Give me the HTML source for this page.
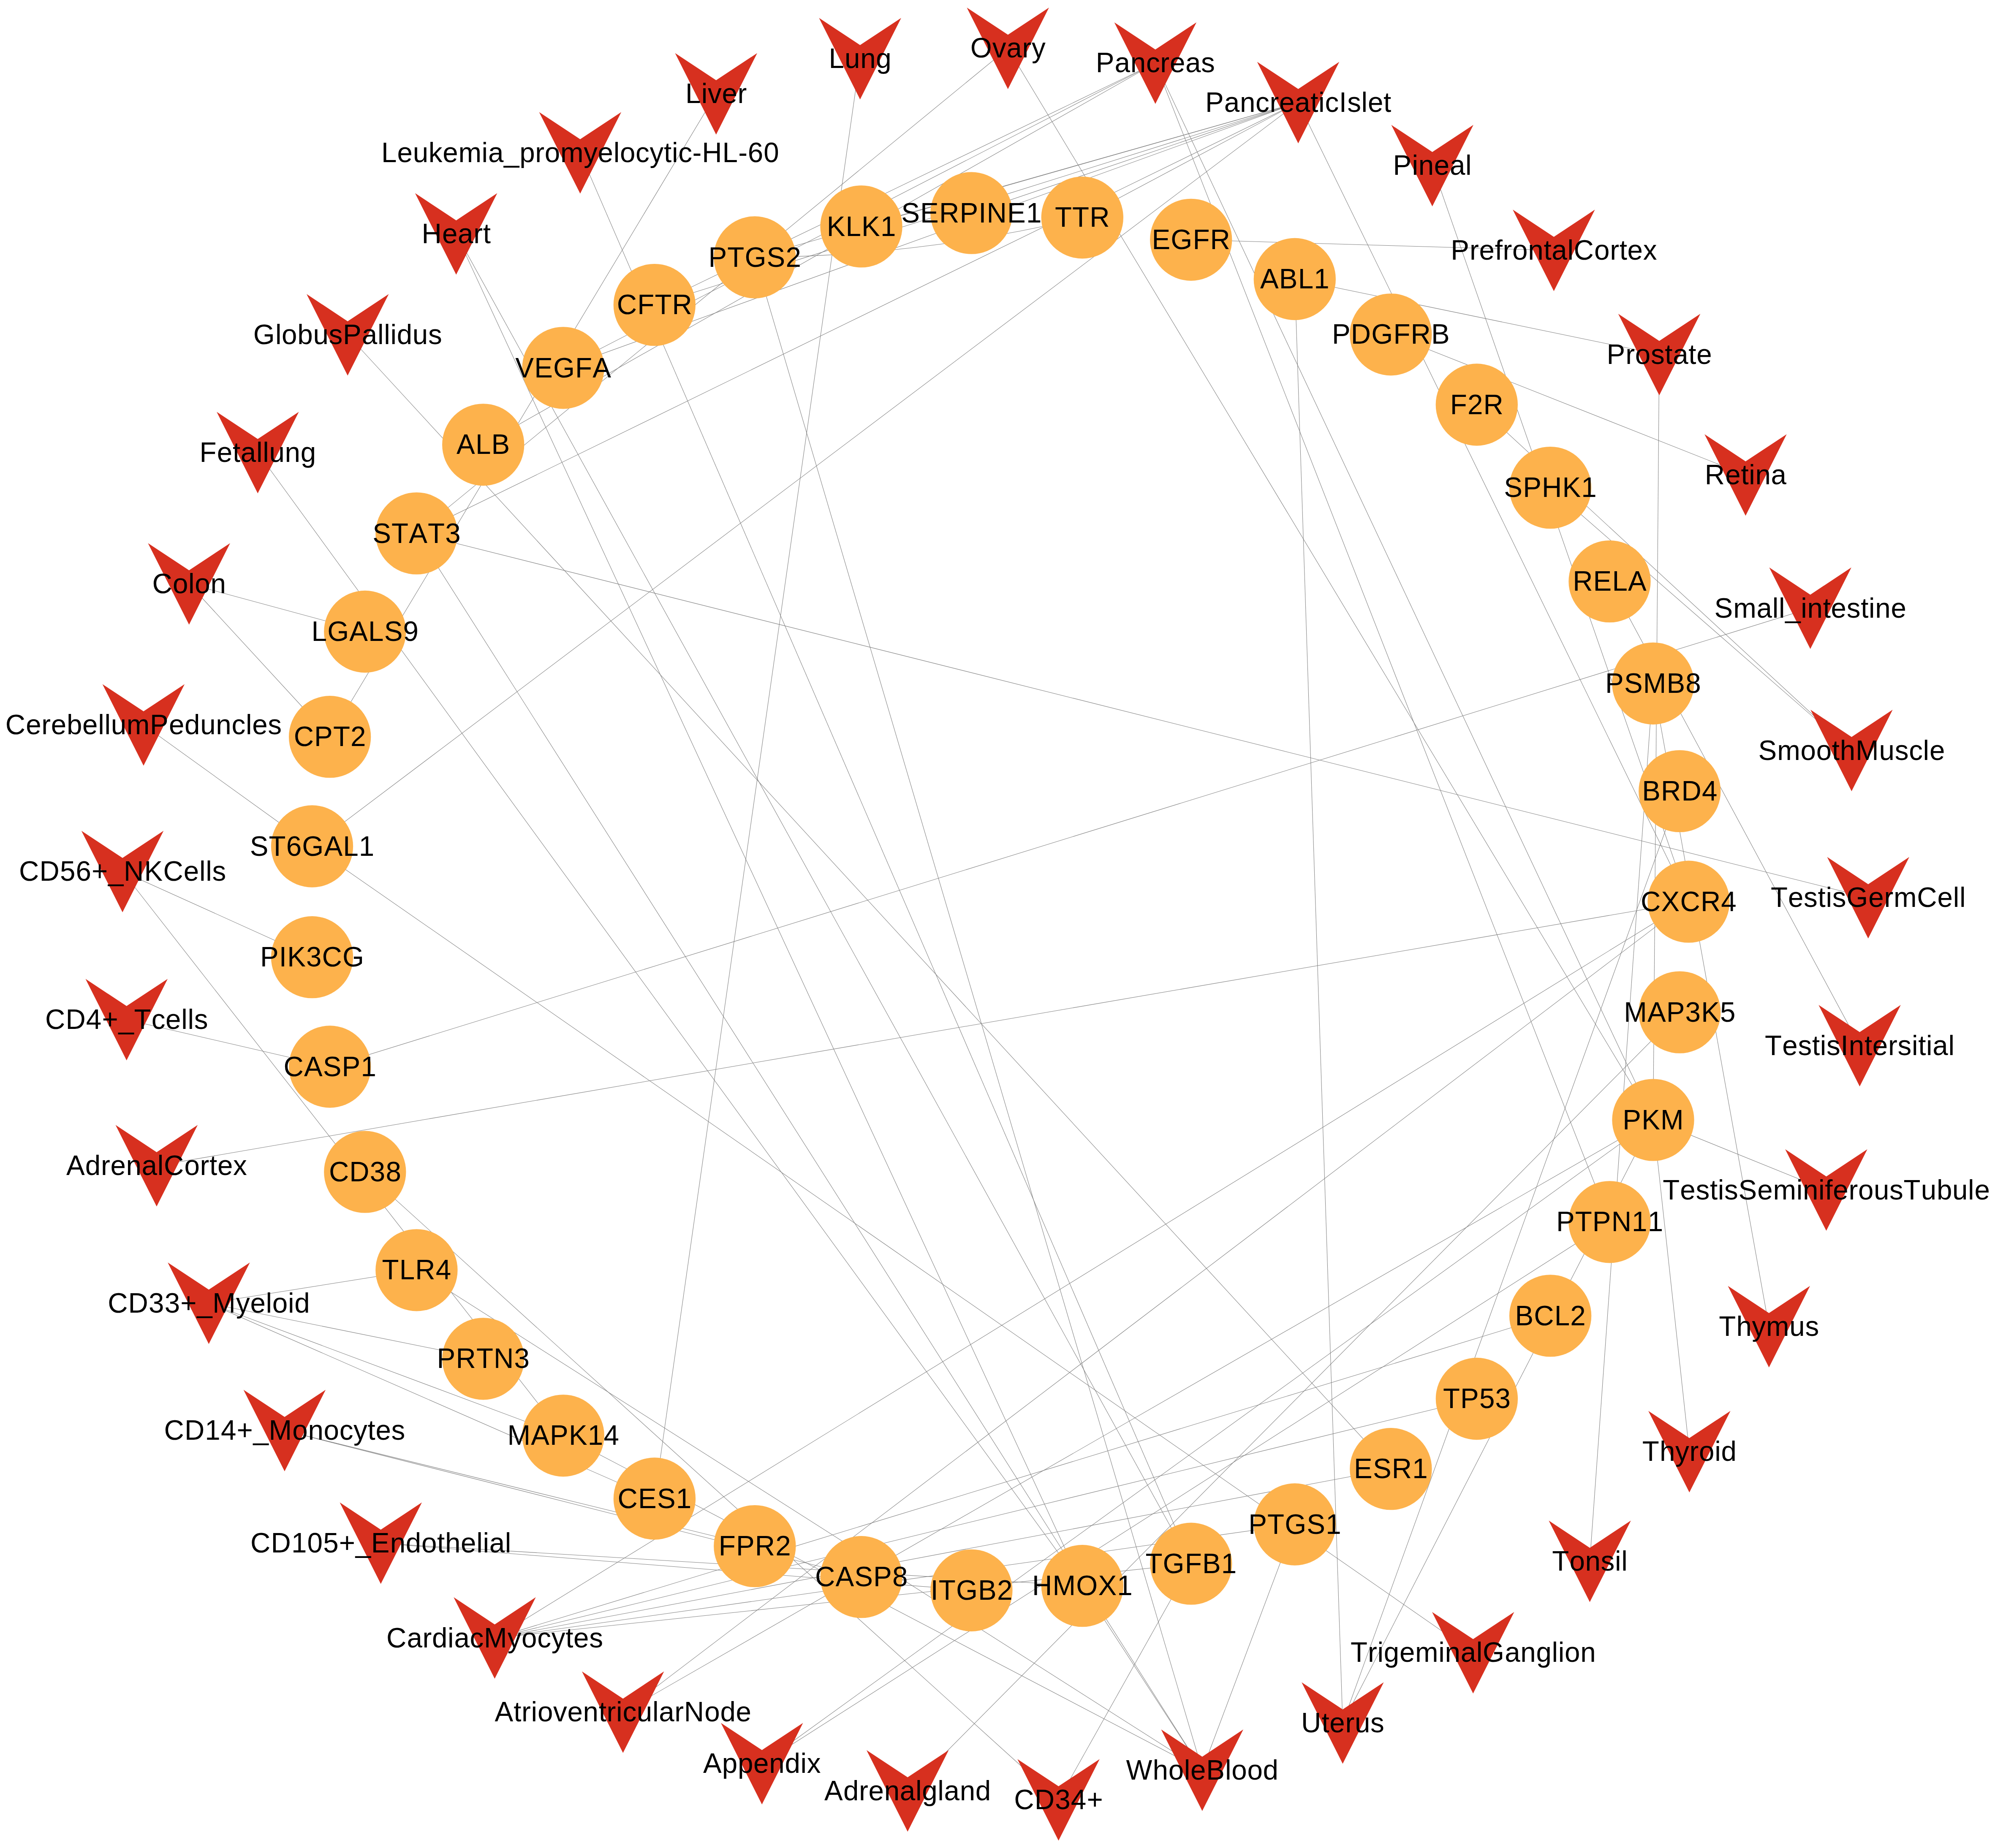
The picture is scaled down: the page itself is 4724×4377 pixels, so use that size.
<!DOCTYPE html><html><head><meta charset="utf-8"><title>network</title><style>html,body{margin:0;padding:0;background:#fff}svg{display:block}text{font-family:"Liberation Sans",sans-serif;font-size:65.50px;fill:#000}</style></head><body>
<svg width="4724" height="4377" viewBox="0 0 4724 4377">
<rect width="4724" height="4377" fill="#fff"/>
<g stroke="#808080" stroke-width="1.05" fill="none">
<line x1="1695.7" y1="222.2" x2="781.1" y2="1745.2"/>
<line x1="2036.6" y1="138.9" x2="1549.9" y2="3549.5"/>
<line x1="1373.8" y1="361.9" x2="2820.3" y2="3703.7"/>
<line x1="1080.2" y1="554.1" x2="2562.9" y2="3756.2"/>
<line x1="1080.2" y1="554.1" x2="2820.3" y2="3703.7"/>
<line x1="2386.7" y1="114.4" x2="986.4" y2="1263.4"/>
<line x1="2386.7" y1="114.4" x2="3914.5" y2="2652.6"/>
<line x1="2735.8" y1="149.4" x2="3811.5" y2="2894.3"/>
<line x1="2735.8" y1="149.4" x2="3914.5" y2="2652.6"/>
<line x1="2735.8" y1="149.4" x2="1144.2" y2="1053.3"/>
<line x1="2735.8" y1="149.4" x2="1549.8" y2="722.1"/>
<line x1="2735.8" y1="149.4" x2="1333.6" y2="871.3"/>
<line x1="3074.1" y1="242.9" x2="2039.5" y2="536.4"/>
<line x1="3074.1" y1="242.9" x2="1787.2" y2="609.5"/>
<line x1="3074.1" y1="242.9" x2="1549.8" y2="722.1"/>
<line x1="3074.1" y1="242.9" x2="2300.3" y2="504.7"/>
<line x1="3074.1" y1="242.9" x2="986.4" y2="1263.4"/>
<line x1="3074.1" y1="242.9" x2="2562.8" y2="515.3"/>
<line x1="3074.1" y1="242.9" x2="739.0" y2="2004.5"/>
<line x1="3074.1" y1="242.9" x2="3998.5" y2="2135.7"/>
<line x1="3074.1" y1="242.9" x2="1333.6" y2="871.3"/>
<line x1="3391.6" y1="392.3" x2="3998.5" y2="2135.7"/>
<line x1="3679.4" y1="593.1" x2="2820.2" y2="567.8"/>
<line x1="3929.0" y1="839.7" x2="3065.8" y2="661.0"/>
<line x1="3929.0" y1="839.7" x2="3914.5" y2="2652.6"/>
<line x1="4133.4" y1="1124.9" x2="3293.3" y2="792.3"/>
<line x1="4384.4" y1="1777.6" x2="3496.8" y2="958.5"/>
<line x1="4384.4" y1="1777.6" x2="3671.0" y2="1155.1"/>
<line x1="4286.7" y1="1440.6" x2="781.1" y2="2526.5"/>
<line x1="4403.6" y1="2476.7" x2="3811.5" y2="1377.1"/>
<line x1="4188.8" y1="3142.2" x2="3914.4" y2="1618.8"/>
<line x1="3179.4" y1="4080.9" x2="3065.8" y2="661.0"/>
<line x1="823.2" y1="793.0" x2="3293.4" y2="3479.2"/>
<line x1="2846.8" y1="4192.8" x2="986.4" y2="1263.4"/>
<line x1="610.3" y1="1072.0" x2="2562.9" y2="3756.2"/>
<line x1="339.9" y1="1716.9" x2="739.0" y2="2004.5"/>
<line x1="3488.2" y1="3914.4" x2="739.0" y2="2004.5"/>
<line x1="2846.8" y1="4192.8" x2="1787.2" y2="609.5"/>
<line x1="4423.7" y1="2126.3" x2="986.4" y2="1263.4"/>
<line x1="370.9" y1="2761.1" x2="3998.5" y2="2135.7"/>
<line x1="447.7" y1="1382.9" x2="864.3" y2="1496.0"/>
<line x1="447.7" y1="1382.9" x2="781.1" y2="1745.2"/>
<line x1="1171.4" y1="3879.6" x2="3998.5" y2="2135.7"/>
<line x1="1171.4" y1="3879.6" x2="3671.1" y2="3116.4"/>
<line x1="1171.4" y1="3879.6" x2="3496.9" y2="3313.0"/>
<line x1="1171.4" y1="3879.6" x2="3293.4" y2="3479.2"/>
<line x1="1171.4" y1="3879.6" x2="3065.9" y2="3610.5"/>
<line x1="1171.4" y1="3879.6" x2="2820.3" y2="3703.7"/>
<line x1="901.7" y1="3655.1" x2="2562.9" y2="3756.2"/>
<line x1="901.7" y1="3655.1" x2="2300.4" y2="3766.8"/>
<line x1="1475.2" y1="4055.3" x2="3914.5" y2="2652.6"/>
<line x1="1475.2" y1="4055.3" x2="3998.5" y2="2135.7"/>
<line x1="2506.5" y1="4263.0" x2="864.3" y2="2775.7"/>
<line x1="2846.8" y1="4192.8" x2="1333.7" y2="3400.3"/>
<line x1="2846.8" y1="4192.8" x2="986.4" y2="3008.3"/>
<line x1="1804.2" y1="4177.2" x2="3914.5" y2="2652.6"/>
<line x1="1804.2" y1="4177.2" x2="3811.5" y2="2894.3"/>
<line x1="2846.8" y1="4192.8" x2="3065.9" y2="3610.5"/>
<line x1="2846.8" y1="4192.8" x2="2562.9" y2="3756.2"/>
<line x1="2506.5" y1="4263.0" x2="2820.3" y2="3703.7"/>
<line x1="2149.2" y1="4241.7" x2="3977.3" y2="2397.6"/>
<line x1="3179.4" y1="4080.9" x2="3977.3" y2="1873.9"/>
<line x1="3179.4" y1="4080.9" x2="3914.5" y2="2652.6"/>
<line x1="3764.5" y1="3698.1" x2="3914.4" y2="1618.8"/>
<line x1="4324.5" y1="2818.6" x2="3914.5" y2="2652.6"/>
<line x1="4000.3" y1="3438.2" x2="3914.5" y2="2652.6"/>
<line x1="494.4" y1="3086.7" x2="986.4" y2="3008.3"/>
<line x1="494.4" y1="3086.7" x2="1144.2" y2="3218.3"/>
<line x1="494.4" y1="3086.7" x2="1333.7" y2="3400.3"/>
<line x1="494.4" y1="3086.7" x2="1549.9" y2="3549.5"/>
<line x1="673.9" y1="3388.2" x2="1787.3" y2="3662.1"/>
<line x1="673.9" y1="3388.2" x2="2039.6" y2="3735.2"/>
<line x1="290.1" y1="2064.2" x2="739.0" y2="2267.2"/>
<line x1="290.1" y1="2064.2" x2="1333.7" y2="3400.3"/>
<line x1="299.7" y1="2415.0" x2="781.1" y2="2526.5"/>
<path d="M1787.2 609.5 Q2180.4 607.1 2562.8 515.3"/>
</g>
<g fill="#FDB24C">
<circle cx="2039.5" cy="536.4" r="97.15"/>
<circle cx="2300.3" cy="504.7" r="97.15"/>
<circle cx="2562.8" cy="515.3" r="97.15"/>
<circle cx="2820.2" cy="567.8" r="97.15"/>
<circle cx="3065.8" cy="661.0" r="97.15"/>
<circle cx="3293.3" cy="792.3" r="97.15"/>
<circle cx="3496.8" cy="958.5" r="97.15"/>
<circle cx="3671.0" cy="1155.1" r="97.15"/>
<circle cx="3811.5" cy="1377.1" r="97.15"/>
<circle cx="3914.4" cy="1618.8" r="97.15"/>
<circle cx="3977.3" cy="1873.9" r="97.15"/>
<circle cx="3998.5" cy="2135.7" r="97.15"/>
<circle cx="3977.3" cy="2397.6" r="97.15"/>
<circle cx="3914.5" cy="2652.6" r="97.15"/>
<circle cx="3811.5" cy="2894.3" r="97.15"/>
<circle cx="3671.1" cy="3116.4" r="97.15"/>
<circle cx="3496.9" cy="3313.0" r="97.15"/>
<circle cx="3293.4" cy="3479.2" r="97.15"/>
<circle cx="3065.9" cy="3610.5" r="97.15"/>
<circle cx="2820.3" cy="3703.7" r="97.15"/>
<circle cx="2562.9" cy="3756.2" r="97.15"/>
<circle cx="2300.4" cy="3766.8" r="97.15"/>
<circle cx="2039.6" cy="3735.2" r="97.15"/>
<circle cx="1787.3" cy="3662.1" r="97.15"/>
<circle cx="1549.9" cy="3549.5" r="97.15"/>
<circle cx="1333.7" cy="3400.3" r="97.15"/>
<circle cx="1144.2" cy="3218.3" r="97.15"/>
<circle cx="986.4" cy="3008.3" r="97.15"/>
<circle cx="864.3" cy="2775.7" r="97.15"/>
<circle cx="781.1" cy="2526.5" r="97.15"/>
<circle cx="739.0" cy="2267.2" r="97.15"/>
<circle cx="739.0" cy="2004.5" r="97.15"/>
<circle cx="781.1" cy="1745.2" r="97.15"/>
<circle cx="864.3" cy="1496.0" r="97.15"/>
<circle cx="986.4" cy="1263.4" r="97.15"/>
<circle cx="1144.2" cy="1053.3" r="97.15"/>
<circle cx="1333.6" cy="871.3" r="97.15"/>
<circle cx="1549.8" cy="722.1" r="97.15"/>
<circle cx="1787.2" cy="609.5" r="97.15"/>
</g><g fill="#D7301F">
<polygon points="1598.5,125.7 1695.7,190.1 1793.0,125.7 1695.7,318.7"/>
<polygon points="1939.4,42.4 2036.6,106.7 2133.9,42.4 2036.6,235.4"/>
<polygon points="2289.4,17.9 2386.7,82.2 2483.9,17.9 2386.7,210.9"/>
<polygon points="2638.6,52.9 2735.8,117.2 2833.1,52.9 2735.8,245.9"/>
<polygon points="2976.8,146.4 3074.1,210.8 3171.3,146.4 3074.1,339.4"/>
<polygon points="3294.4,295.8 3391.6,360.1 3488.9,295.8 3391.6,488.8"/>
<polygon points="3582.1,496.6 3679.4,560.9 3776.6,496.6 3679.4,689.6"/>
<polygon points="3831.8,743.2 3929.0,807.5 4026.3,743.2 3929.0,936.2"/>
<polygon points="4036.2,1028.4 4133.4,1092.8 4230.7,1028.4 4133.4,1221.4"/>
<polygon points="4189.4,1344.1 4286.7,1408.4 4383.9,1344.1 4286.7,1537.1"/>
<polygon points="4287.1,1681.1 4384.4,1745.5 4481.6,1681.1 4384.4,1874.1"/>
<polygon points="4326.5,2029.8 4423.7,2094.2 4521.0,2029.8 4423.7,2222.8"/>
<polygon points="4306.3,2380.2 4403.6,2444.5 4500.8,2380.2 4403.6,2573.2"/>
<polygon points="4227.2,2722.1 4324.5,2786.4 4421.7,2722.1 4324.5,2915.1"/>
<polygon points="4091.5,3045.7 4188.8,3110.0 4286.0,3045.7 4188.8,3238.7"/>
<polygon points="3903.1,3341.7 4000.3,3406.0 4097.6,3341.7 4000.3,3534.7"/>
<polygon points="3667.3,3601.6 3764.5,3665.9 3861.8,3601.6 3764.5,3794.6"/>
<polygon points="3391.0,3817.9 3488.2,3882.2 3585.5,3817.9 3488.2,4010.9"/>
<polygon points="3082.1,3984.4 3179.4,4048.8 3276.6,3984.4 3179.4,4177.4"/>
<polygon points="2749.5,4096.3 2846.8,4160.7 2944.0,4096.3 2846.8,4289.3"/>
<polygon points="2409.2,4166.5 2506.5,4230.8 2603.8,4166.5 2506.5,4359.5"/>
<polygon points="2051.9,4145.2 2149.2,4209.5 2246.4,4145.2 2149.2,4338.2"/>
<polygon points="1707.0,4080.7 1804.2,4145.0 1901.5,4080.7 1804.2,4273.7"/>
<polygon points="1377.9,3958.8 1475.2,4023.2 1572.4,3958.8 1475.2,4151.8"/>
<polygon points="1074.2,3783.1 1171.4,3847.4 1268.7,3783.1 1171.4,3976.1"/>
<polygon points="804.5,3558.6 901.7,3622.9 999.0,3558.6 901.7,3751.6"/>
<polygon points="576.6,3291.7 673.9,3356.0 771.1,3291.7 673.9,3484.7"/>
<polygon points="397.2,2990.2 494.4,3054.5 591.7,2990.2 494.4,3183.2"/>
<polygon points="273.6,2664.6 370.9,2728.9 468.1,2664.6 370.9,2857.6"/>
<polygon points="202.5,2318.5 299.7,2382.8 397.0,2318.5 299.7,2511.5"/>
<polygon points="192.8,1967.7 290.1,2032.1 387.3,1967.7 290.1,2160.7"/>
<polygon points="242.6,1620.4 339.9,1684.7 437.1,1620.4 339.9,1813.4"/>
<polygon points="350.4,1286.4 447.7,1350.8 544.9,1286.4 447.7,1479.4"/>
<polygon points="513.1,975.5 610.3,1039.8 707.6,975.5 610.3,1168.5"/>
<polygon points="726.0,696.5 823.2,760.9 920.5,696.5 823.2,889.5"/>
<polygon points="982.9,457.6 1080.2,521.9 1177.4,457.6 1080.2,650.6"/>
<polygon points="1276.6,265.4 1373.8,329.8 1471.1,265.4 1373.8,458.4"/>
</g><g>
<text transform="matrix(1 0 0 1.030 0 -16.75)" x="1957.7 2002.5 2040.1 2084.9" y="558.5">KLK1</text>
<text transform="matrix(1 0 0 1.030 0 -15.80)" x="2134.3 2179.1 2224.0 2272.4 2317.2 2336.6 2385.0 2429.9" y="526.8">SERPINE1</text>
<text transform="matrix(1 0 0 1.030 0 -16.12)" x="2498.0 2539.1 2580.3" y="537.4">TTR</text>
<text transform="matrix(1 0 0 1.030 0 -17.70)" x="2727.5 2772.3 2824.4 2865.6" y="589.9">EGFR</text>
<text transform="matrix(1 0 0 1.030 0 -20.49)" x="2984.0 3028.8 3073.7 3111.2" y="683.1">ABL1</text>
<text transform="matrix(1 0 0 1.030 0 -24.43)" x="3154.0 3198.8 3247.3 3299.4 3340.5 3389.0" y="814.4">PDGFRB</text>
<text transform="matrix(1 0 0 1.030 0 -29.42)" x="3433.8 3475.0 3512.5" y="980.6">F2R</text>
<text transform="matrix(1 0 0 1.030 0 -35.32)" x="3561.3 3606.2 3651.0 3699.5 3744.3" y="1177.2">SPHK1</text>
<text transform="matrix(1 0 0 1.030 0 -41.98)" x="3724.2 3772.6 3817.5 3855.0" y="1399.2">RELA</text>
<text transform="matrix(1 0 0 1.030 0 -49.23)" x="3801.1 3845.9 3890.8 3946.5 3991.3" y="1640.9">PSMB8</text>
<text transform="matrix(1 0 0 1.030 0 -56.88)" x="3888.2 3933.1 3981.5 4030.0" y="1896.0">BRD4</text>
<text transform="matrix(1 0 0 1.030 0 -64.73)" x="3885.1 3933.6 3978.4 4026.9 4075.3" y="2157.8">CXCR4</text>
<text transform="matrix(1 0 0 1.030 0 -72.59)" x="3845.2 3900.9 3945.8 3990.6 4028.2 4073.0" y="2419.7">MAP3K5</text>
<text transform="matrix(1 0 0 1.030 0 -80.24)" x="3842.3 3887.2 3932.0" y="2674.8">PKM</text>
<text transform="matrix(1 0 0 1.030 0 -87.49)" x="3684.9 3729.7 3770.8 3815.7 3864.1 3901.7" y="2916.4">PTPN11</text>
<text transform="matrix(1 0 0 1.030 0 -94.15)" x="3587.4 3632.3 3680.7 3718.3" y="3138.5">BCL2</text>
<text transform="matrix(1 0 0 1.030 0 -100.05)" x="3416.9 3458.1 3502.9 3540.5" y="3335.1">TP53</text>
<text transform="matrix(1 0 0 1.030 0 -105.04)" x="3206.1 3251.0 3295.8 3344.3" y="3501.3">ESR1</text>
<text transform="matrix(1 0 0 1.030 0 -108.98)" x="2956.2 3001.1 3042.2 3094.3 3139.2" y="3632.6">PTGS1</text>
<text transform="matrix(1 0 0 1.030 0 -111.77)" x="2712.4 2753.6 2805.7 2846.9 2891.7" y="3725.8">TGFB1</text>
<text transform="matrix(1 0 0 1.030 0 -113.35)" x="2444.1 2492.6 2548.3 2600.4 2645.2" y="3778.4">HMOX1</text>
<text transform="matrix(1 0 0 1.030 0 -113.67)" x="2203.5 2222.8 2264.0 2316.1 2360.9" y="3788.9">ITGB2</text>
<text transform="matrix(1 0 0 1.030 0 -112.72)" x="1929.9 1978.4 2023.2 2068.0 2112.9" y="3757.3">CASP8</text>
<text transform="matrix(1 0 0 1.030 0 -110.53)" x="1701.8 1743.0 1787.8 1836.3" y="3684.2">FPR2</text>
<text transform="matrix(1 0 0 1.030 0 -107.15)" x="1462.6 1511.1 1555.9 1600.8" y="3571.6">CES1</text>
<text transform="matrix(1 0 0 1.030 0 -102.67)" x="1201.6 1257.3 1302.1 1347.0 1391.8 1429.4" y="3422.4">MAPK14</text>
<text transform="matrix(1 0 0 1.030 0 -97.21)" x="1034.6 1079.4 1127.9 1169.0 1217.5" y="3240.4">PRTN3</text>
<text transform="matrix(1 0 0 1.030 0 -90.91)" x="904.6 945.8 983.3 1031.8" y="3030.4">TLR4</text>
<text transform="matrix(1 0 0 1.030 0 -83.93)" x="778.9 827.3 875.8 913.4" y="2797.8">CD38</text>
<text transform="matrix(1 0 0 1.030 0 -76.46)" x="671.4 719.9 764.7 809.6 854.4" y="2548.6">CASP1</text>
<text transform="matrix(1 0 0 1.030 0 -68.68)" x="616.0 660.8 680.2 725.0 762.6 811.0" y="2289.3">PIK3CG</text>
<text transform="matrix(1 0 0 1.030 0 -60.80)" x="591.7 636.6 677.7 715.3 767.4 812.2 849.8" y="2026.6">ST6GAL1</text>
<text transform="matrix(1 0 0 1.030 0 -53.02)" x="695.7 744.1 789.0 830.1" y="1767.3">CPT2</text>
<text transform="matrix(1 0 0 1.030 0 -45.54)" x="737.6 775.2 827.3 872.1 909.7 954.5" y="1518.1">LGALS9</text>
<text transform="matrix(1 0 0 1.030 0 -38.56)" x="882.2 927.0 968.2 1013.0 1054.2" y="1285.5">STAT3</text>
<text transform="matrix(1 0 0 1.030 0 -32.26)" x="1081.1 1126.0 1163.5" y="1075.4">ALB</text>
<text transform="matrix(1 0 0 1.030 0 -26.80)" x="1220.3 1265.2 1310.0 1362.1 1403.3" y="893.5">VEGFA</text>
<text transform="matrix(1 0 0 1.030 0 -22.33)" x="1460.8 1509.2 1550.4 1591.6" y="744.2">CFTR</text>
<text transform="matrix(1 0 0 1.030 0 -18.95)" x="1677.5 1722.3 1763.5 1815.6 1860.4" y="631.6">PTGS2</text>
<text transform="matrix(1 0 0 1.030 0 -7.33)" x="1623.1 1660.7 1676.0 1709.4 1746.5" y="244.3">Liver</text>
<text transform="matrix(1 0 0 1.030 0 -4.83)" x="1962.5 2000.1 2037.2 2074.3" y="161.0">Lung</text>
<text transform="matrix(1 0 0 1.030 0 -4.10)" x="2297.7 2349.8 2383.2 2420.4 2442.9" y="136.5">Ovary</text>
<text transform="matrix(1 0 0 1.030 0 -5.15)" x="2594.8 2639.6 2676.8 2713.9 2747.3 2769.9 2807.0 2844.1" y="171.5">Pancreas</text>
<text transform="matrix(1 0 0 1.030 0 -7.95)" x="2853.9 2898.7 2935.9 2973.0 3006.5 3029.0 3066.1 3103.2 3122.1 3137.4 3170.8 3190.2 3223.6 3238.9 3276.0" y="265.0">PancreaticIslet</text>
<text transform="matrix(1 0 0 1.030 0 -12.43)" x="3298.6 3343.4 3358.7 3395.8 3432.9 3470.1" y="414.4">Pineal</text>
<text transform="matrix(1 0 0 1.030 0 -18.46)" x="3435.2 3480.0 3502.6 3539.7 3558.6 3581.1 3618.2 3655.4 3674.2 3711.4 3726.6 3775.1 3812.2 3834.7 3853.6 3890.7" y="615.2">PrefrontalCortex</text>
<text transform="matrix(1 0 0 1.030 0 -25.85)" x="3804.4 3849.2 3871.7 3908.9 3942.3 3961.2 3998.3 4017.2" y="861.8">Prostate</text>
<text transform="matrix(1 0 0 1.030 0 -34.41)" x="4036.8 4085.2 4122.4 4141.3 4156.5 4193.6" y="1147.0">Retina</text>
<text transform="matrix(1 0 0 1.030 0 -43.88)" x="4059.5 4104.3 4159.6 4196.7 4211.9 4227.2 4264.3 4279.6 4316.7 4335.6 4372.7 4406.2 4425.1 4440.3 4477.5" y="1462.7">Small_intestine</text>
<text transform="matrix(1 0 0 1.030 0 -53.99)" x="4163.5 4208.3 4263.6 4300.7 4337.8 4356.7 4393.9 4449.6 4486.7 4520.2 4553.6 4568.9" y="1799.7">SmoothMuscle</text>
<text transform="matrix(1 0 0 1.030 0 -64.45)" x="4192.9 4234.0 4271.1 4304.6 4323.5 4338.7 4372.2 4424.3 4461.4 4483.9 4539.2 4587.6 4624.8 4640.0" y="2148.5">TestisGermCell</text>
<text transform="matrix(1 0 0 1.030 0 -74.96)" x="4179.1 4220.3 4257.4 4290.9 4309.8 4325.0 4358.5 4377.8 4414.9 4433.8 4471.0 4493.5 4526.9 4542.2 4561.1 4576.3 4613.4" y="2498.8">TestisIntersitial</text>
<text transform="matrix(1 0 0 1.030 0 -85.22)" x="3937.2 3978.3 4015.4 4048.9 4067.8 4083.0 4116.5 4161.3 4198.5 4253.7 4269.0 4306.1 4321.3 4340.2 4377.4 4399.9 4437.0 4474.1 4507.6 4548.8 4585.9 4623.0 4660.1 4675.4" y="2840.7">TestisSeminiferousTubule</text>
<text transform="matrix(1 0 0 1.030 0 -94.93)" x="4070.3 4111.5 4148.6 4182.1 4237.3 4274.5" y="3164.3">Thymus</text>
<text transform="matrix(1 0 0 1.030 0 -103.81)" x="3888.8 3929.9 3967.1 4000.5 4023.0 4060.2 4075.4" y="3460.3">Thyroid</text>
<text transform="matrix(1 0 0 1.030 0 -111.61)" x="3675.2 3716.4 3753.5 3790.6 3824.1 3839.3" y="3720.2">Tonsil</text>
<text transform="matrix(1 0 0 1.030 0 -118.10)" x="3197.9 3239.0 3261.5 3276.8 3313.9 3351.0 3406.3 3421.6 3458.7 3495.8 3511.1 3563.2 3600.3 3637.4 3674.6 3689.8 3705.1 3742.2" y="3936.5">TrigeminalGanglion</text>
<text transform="matrix(1 0 0 1.030 0 -123.09)" x="3080.9 3129.4 3148.3 3185.4 3207.9 3245.0" y="4103.0">Uterus</text>
<text transform="matrix(1 0 0 1.030 0 -126.45)" x="2666.6 2729.5 2766.7 2803.8 2819.1 2856.2 2901.0 2916.3 2953.4 2990.5" y="4215.0">WholeBlood</text>
<text transform="matrix(1 0 0 1.030 0 -128.55)" x="2401.3 2449.8 2498.2 2535.8 2573.4" y="4285.1">CD34+</text>
<text transform="matrix(1 0 0 1.030 0 -127.91)" x="1952.1 1996.9 2034.1 2056.6 2093.7 2130.8 2167.9 2183.2 2220.3 2235.6 2272.7 2309.8" y="4263.8">Adrenalgland</text>
<text transform="matrix(1 0 0 1.030 0 -125.98)" x="1665.0 1709.8 1747.0 1784.1 1821.2 1858.4 1895.5 1910.7" y="4199.3">Appendix</text>
<text transform="matrix(1 0 0 1.030 0 -122.32)" x="1171.4 1216.2 1235.1 1257.6 1272.9 1310.0 1343.4 1380.6 1417.7 1436.6 1459.1 1474.4 1507.8 1544.9 1560.2 1597.3 1619.8 1668.3 1705.4 1742.5" y="4077.4">AtrioventricularNode</text>
<text transform="matrix(1 0 0 1.030 0 -117.05)" x="914.9 963.4 1000.5 1023.0 1060.1 1075.4 1112.5 1146.0 1201.7 1235.1 1272.3 1305.7 1339.2 1358.1 1395.2" y="3901.7">CardiacMyocytes</text>
<text transform="matrix(1 0 0 1.030 0 -110.32)" x="593.1 641.6 690.0 727.6 765.2 802.7 841.7 878.8 923.7 960.8 997.9 1035.0 1053.9 1091.1 1128.2 1143.5 1158.7 1195.8" y="3677.2">CD105+_Endothelial</text>
<text transform="matrix(1 0 0 1.030 0 -102.31)" x="388.4 436.9 485.3 522.9 560.5 599.4 636.6 692.3 729.4 766.5 803.7 837.1 870.6 889.5 926.6" y="3410.3">CD14+_Monocytes</text>
<text transform="matrix(1 0 0 1.030 0 -93.26)" x="255.2 303.6 352.1 389.7 427.2 466.2 503.3 559.0 592.5 629.6 644.8 682.0 697.2" y="3108.8">CD33+_Myeloid</text>
<text transform="matrix(1 0 0 1.030 0 -83.50)" x="156.9 201.7 238.9 261.4 298.5 335.6 372.8 388.0 436.5 473.6 496.1 515.0 552.1" y="2783.2">AdrenalCortex</text>
<text transform="matrix(1 0 0 1.030 0 -73.11)" x="106.9 155.4 203.8 241.4 280.4 317.5 358.7 392.1 429.2 444.5 459.7" y="2437.1">CD4+_Tcells</text>
<text transform="matrix(1 0 0 1.030 0 -62.59)" x="45.0 93.4 141.9 179.4 217.0 256.0 293.1 341.5 386.4 434.8 472.0 487.2 502.5" y="2086.3">CD56+_NKCells</text>
<text transform="matrix(1 0 0 1.030 0 -52.17)" x="12.7 61.2 98.3 120.8 158.0 195.1 232.2 247.5 262.7 299.8 355.1 399.9 437.1 474.2 511.3 548.5 581.9 597.2 634.3" y="1739.0">CerebellumPeduncles</text>
<text transform="matrix(1 0 0 1.030 0 -42.15)" x="360.5 408.9 446.1 461.3 498.4" y="1405.0">Colon</text>
<text transform="matrix(1 0 0 1.030 0 -32.82)" x="472.6 513.7 550.9 569.8 606.9 622.2 637.4 674.5 711.7" y="1094.1">Fetallung</text>
<text transform="matrix(1 0 0 1.030 0 -24.45)" x="599.8 651.9 667.1 704.2 741.4 778.5 811.9 856.8 893.9 909.2 924.4 939.7 976.8 1013.9" y="815.1">GlobusPallidus</text>
<text transform="matrix(1 0 0 1.030 0 -17.28)" x="998.5 1046.9 1084.1 1121.2 1143.7" y="576.2">Heart</text>
<text transform="matrix(1 0 0 1.030 0 -11.52)" x="903.0 940.5 977.7 1014.8 1048.3 1085.4 1140.6 1155.9 1193.0 1230.2 1267.3 1289.8 1326.9 1382.2 1415.6 1452.8 1468.0 1505.1 1538.6 1572.0 1590.9 1606.2 1639.6 1662.2 1710.6 1748.2 1770.7 1808.3" y="384.0">Leukemia_promyelocytic-HL-60</text>
</g></svg></body></html>
